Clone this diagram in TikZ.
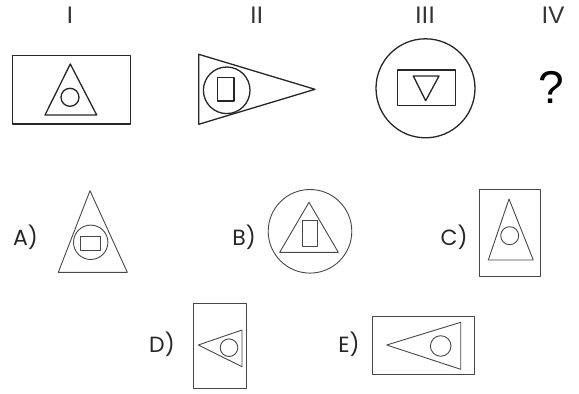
\documentclass[tikz,border=0pt]{standalone}
\usepackage{fontspec}
\setmainfont{Liberation Sans}
\newfontfamily\ansfont{Poppins}
\begin{document}
\begin{tikzpicture}[x=1pt, y=-1pt,
    fig/.style = {draw=black!85, line width=1.3pt, line join=round},
    opt/.style = {draw=black!72, line width=0.9pt, line join=round},
    num/.style = {anchor=base, inner sep=0pt, text=black!80, font=\fontsize{24}{24}\selectfont},
    lbl/.style = {anchor=base, inner sep=0pt, text=black!85, font=\ansfont\fontsize{22}{22}\selectfont}]
    \useasboundingbox (0,0) rectangle (579,394);
    % question row
    \node[num] (n1) at (70,23) {I};
    \node[num] (n2) at (256.7,23) {II};
    \node[num] (n3) at (425,23) {III};
    \node[num] (n4) at (553,23) {IV};
    \node[num, font=\fontsize{46}{46}\selectfont, text=black] (q) at (551,103.3) {?};
    % I
    \draw[fig] (12.7,55.7) rectangle (130.7,124);
    \draw[fig] (70.3,64) -- (45,115) -- (96.7,115) -- cycle;
    \draw[fig] (70,97.3) circle[radius=9pt];
    % II
    \draw[fig] (198.7,54.3) -- (315,89.3) -- (198.7,124.3) -- cycle;
    \draw[fig] (226.7,90.3) circle[radius=23.3pt];
    \draw[fig] (217.3,77.7) rectangle (234,101);
    % III
    \draw[fig] (425.5,88.3) circle[radius=49.5pt];
    \draw[fig] (397.3,70) rectangle (455.7,105.7);
    \draw[fig] (413.3,76) -- (439,76) -- (425.7,100.7) -- cycle;
    % answers
    \node[lbl] (a) at (25.5,245) {A)};
    \draw[opt] (90,190.7) -- (58.3,272.3) -- (127.3,272.3) -- cycle;
    \draw[opt] (90.7,242.3) circle[radius=17.2pt];
    \draw[opt] (80.7,236.7) rectangle (100,250.7);
    \node[lbl] (b) at (244,245) {B)};
    \draw[opt] (310,231.3) circle[radius=41.8pt];
    \draw[opt] (309,202.3) -- (279.7,252.3) -- (338.3,252.3) -- cycle;
    \draw[opt] (302.7,220) rectangle (317.7,246);
    \node[lbl] (c) at (454,245) {C)};
    \draw[opt] (479.3,189.3) rectangle (540.7,276);
    \draw[opt] (509,199) -- (488.3,260) -- (533.3,260) -- cycle;
    \draw[opt] (509.7,235.7) circle[radius=9pt];
    \node[lbl] (d) at (162,352) {D)};
    \draw[opt] (193.3,303.3) rectangle (246.7,388.3);
    \draw[opt] (198.3,345) -- (242,330) -- (242,366.7) -- cycle;
    \draw[opt] (229,347.7) circle[radius=8.8pt];
    \node[lbl] (e) at (349,352) {E)};
    \draw[opt] (372.7,316) rectangle (474.3,374.3);
    \draw[opt] (386.7,345) -- (460.7,322.3) -- (460.7,369.3) -- cycle;
    \draw[opt] (440.7,346) circle[radius=10.3pt];
\end{tikzpicture}
\end{document}
